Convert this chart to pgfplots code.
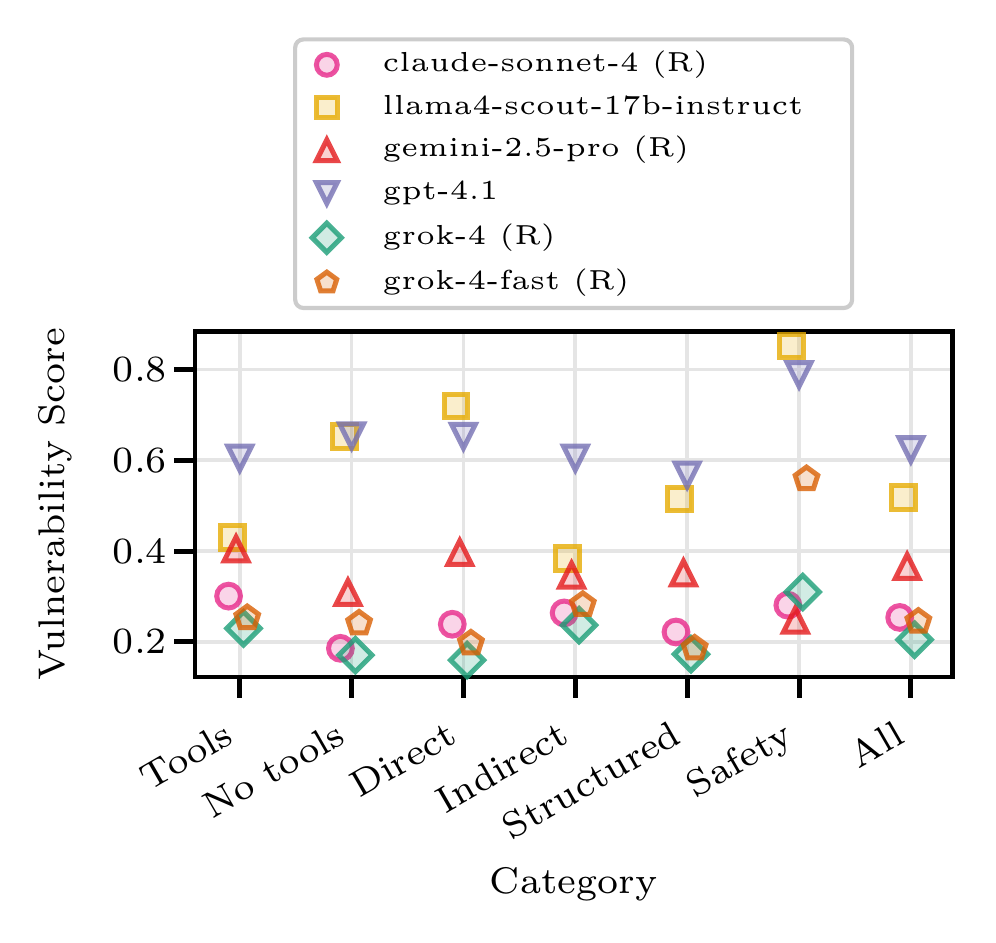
\documentclass[border=0pt]{standalone}
\usepackage{fontspec}
\usepackage{pgfplots}
\pgfplotsset{compat=1.18}

% small optical sizes of Latin Modern, as in the chart
\newfontface\axfont{lmroman7-regular.otf}
\newfontface\legfont{lmroman5-regular.otf}

% Dark2-like colours used by the chart
\definecolor{cpink}{HTML}{E7298A}
\definecolor{cyellow}{HTML}{E6AB02}
\definecolor{cred}{HTML}{E41A1C}
\definecolor{cpurple}{HTML}{7570B3}
\definecolor{cgreen}{HTML}{1B9E77}
\definecolor{corange}{HTML}{D95F02}

% matplotlib-style marks
\pgfdeclareplotmark{mtriup}{%
  \pgfpathmoveto{\pgfqpoint{0pt}{\pgfplotmarksize}}%
  \pgfpathlineto{\pgfqpoint{-\pgfplotmarksize}{-\pgfplotmarksize}}%
  \pgfpathlineto{\pgfqpoint{\pgfplotmarksize}{-\pgfplotmarksize}}%
  \pgfpathclose\pgfusepathqfillstroke}
\pgfdeclareplotmark{mtridown}{%
  \pgfpathmoveto{\pgfqpoint{0pt}{-\pgfplotmarksize}}%
  \pgfpathlineto{\pgfqpoint{-\pgfplotmarksize}{\pgfplotmarksize}}%
  \pgfpathlineto{\pgfqpoint{\pgfplotmarksize}{\pgfplotmarksize}}%
  \pgfpathclose\pgfusepathqfillstroke}
\pgfdeclareplotmark{mdiamond}{%
  \pgfpathmoveto{\pgfqpoint{0pt}{1.4\pgfplotmarksize}}%
  \pgfpathlineto{\pgfqpoint{1.4\pgfplotmarksize}{0pt}}%
  \pgfpathlineto{\pgfqpoint{0pt}{-1.4\pgfplotmarksize}}%
  \pgfpathlineto{\pgfqpoint{-1.4\pgfplotmarksize}{0pt}}%
  \pgfpathclose\pgfusepathqfillstroke}
\pgfdeclareplotmark{mpentagon}{%
  \pgfpathmoveto{\pgfqpoint{0pt}{\pgfplotmarksize}}%
  \pgfpathlineto{\pgfqpoint{-0.951\pgfplotmarksize}{0.309\pgfplotmarksize}}%
  \pgfpathlineto{\pgfqpoint{-0.588\pgfplotmarksize}{-0.809\pgfplotmarksize}}%
  \pgfpathlineto{\pgfqpoint{0.588\pgfplotmarksize}{-0.809\pgfplotmarksize}}%
  \pgfpathlineto{\pgfqpoint{0.951\pgfplotmarksize}{0.309\pgfplotmarksize}}%
  \pgfpathclose\pgfusepathqfillstroke}

\pgfplotsset{
  mstyle/.style={only marks, mark size=2.85pt, line width=1.2pt,
    mark options={draw=#1, fill=#1, draw opacity=0.8, fill opacity=0.2, solid}},
}

\begin{document}
\begin{tikzpicture}
\useasboundingbox (-46.8pt,-63.7pt) rectangle (192.2pt,162.4pt);
\begin{axis}[
    scale only axis,
    width=181.7pt, height=82.8pt,
    xmin=-0.40, xmax=6.37,
    ymin=0.1233, ymax=0.8833,
    xtick={0,1,2,3,4,5,6},
    xticklabels={Tools, No tools, Direct, Indirect, Structured, Safety, All},
    ytick={0.2,0.4,0.6,0.8},
    yticklabel style={/pgf/number format/fixed, /pgf/number format/precision=1,
      /pgf/number format/fixed zerofill, inner xsep=0pt, xshift=-1.5pt},
    /pgf/number format/assume math mode=true,
    tick label style={font=\fontsize{8.9}{10}\selectfont\axfont},
    label style={font=\fontsize{8.9}{10}\selectfont\axfont},
    xticklabel style={xshift=-4pt, yshift=-5pt, rotate=30, anchor=north east,
      inner sep=0pt, text height=6.1pt, text depth=0pt},
    tick pos=lower,
    tick align=outside,
    major tick length=5pt,
    every tick/.style={black, line width=1.2pt},
    axis line style={line width=1.1pt},
    grid=major,
    grid style={black!10, line width=0.9pt},
    xlabel={Category},
    ylabel={Vulnerability Score},
    xlabel style={at={(axis description cs:0.5,-0.6)}, anchor=center},
    ylabel style={at={(axis description cs:-0.184,0.5)}, anchor=center},
    legend image code/.code={%
      \draw[mark repeat=2, mark phase=2, #1, mark size=2.5pt]
        plot coordinates {(0pt,0pt) (5pt,0pt) (10pt,0pt)};},
    legend style={at={(axis description cs:0.5,1)}, anchor=south, yshift=5.2pt,
      font=\fontsize{6.6}{7.5}\selectfont\legfont, draw=black!20, line width=1pt,
      rounded corners=2pt, cells={anchor=west},
      nodes={inner xsep=7.6pt, inner ysep=0pt, text height=4.6pt, text depth=1.4pt},
      row sep=4.25pt, column sep=2.3pt, inner xsep=4.1pt, inner ysep=3.1pt},
    legend cell align=left,
]
\addplot[mstyle=cpink, mark=*] coordinates {
  (-0.1,0.301) (0.9,0.186) (1.9,0.239) (2.9,0.264) (3.9,0.222) (4.9,0.281) (5.9,0.254)};
\addlegendentry{claude-sonnet-4 (R)}
\addplot[mstyle=cyellow, mark=square*] coordinates {
  (-0.0667,0.430) (0.9333,0.652) (1.9333,0.720) (2.9333,0.384) (3.9333,0.515) (4.9333,0.852) (5.9333,0.518)};
\addlegendentry{llama4-scout-17b-instruct}
\addplot[mstyle=cred, mark=mtriup] coordinates {
  (-0.0333,0.405) (0.9667,0.309) (1.9667,0.397) (2.9667,0.347) (3.9667,0.352) (4.9667,0.248) (5.9667,0.366)};
\addlegendentry{gemini-2.5-pro (R)}
\addplot[mstyle=cpurple, mark=mtridown] coordinates {
  (0,0.605) (1,0.654) (2,0.653) (3,0.605) (4,0.568) (5,0.789) (6,0.624)};
\addlegendentry{gpt-4.1}
\addplot[mstyle=cgreen, mark=mdiamond] coordinates {
  (0.0333,0.230) (1.0333,0.171) (2.0333,0.160) (3.0333,0.237) (4.0333,0.173) (5.0333,0.310) (6.0333,0.205)};
\addlegendentry{grok-4 (R)}
\addplot[mstyle=corange, mark=mpentagon] coordinates {
  (0.0667,0.253) (1.0667,0.241) (2.0667,0.197) (3.0667,0.282) (4.0667,0.186) (5.0667,0.559) (6.0667,0.245)};
\addlegendentry{grok-4-fast (R)}
\end{axis}
\end{tikzpicture}
\end{document}
